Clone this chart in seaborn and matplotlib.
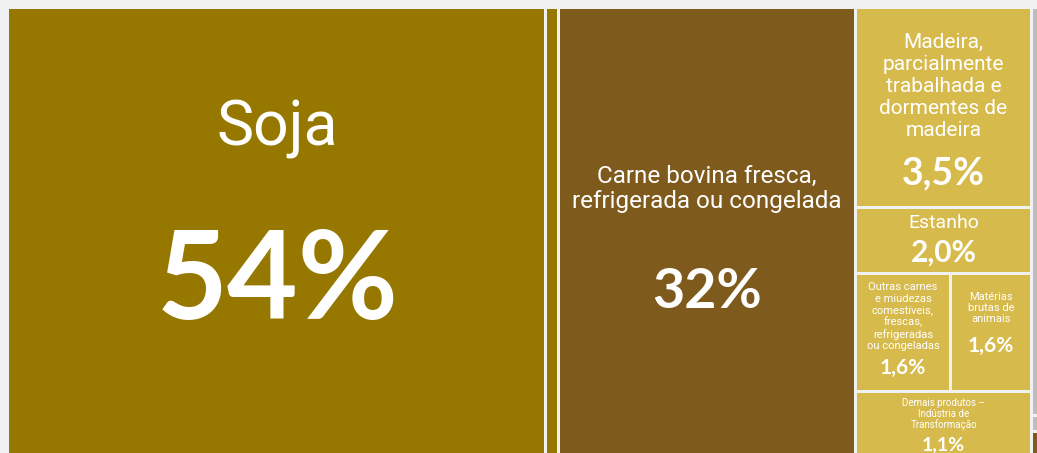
import matplotlib
matplotlib.use("Agg")
import matplotlib.pyplot as plt
from matplotlib.patches import Rectangle
import seaborn as sns

sns.set_theme(style="white")

# Tiles of the treemap (the view is cropped on the right, like the original)
names = [
    "Soja",
    "",
    "Carne bovina fresca,\nrefrigerada ou congelada",
    "Madeira,\nparcialmente\ntrabalhada e\ndormentes de\nmadeira",
    "Estanho",
    "Outras carnes\ne miudezas\ncomestíveis,\nfrescas,\nrefrigeradas\nou congeladas",
    "Matérias\nbrutas de\nanimais",
    "Demais produtos –\nIndústria de\nTransformação",
    "",
    "",
    "",
]
shares = ["54%", "", "32%", "3,5%", "2,0%", "1,6%", "1,6%", "1,1%", "", "", ""]
# tile area (% of the treemap)
sizes = [51.76, 1.25, 28.65, 7.59, 2.54, 2.42, 2.07, 2.36, 1.23, 0.05, 0.065]
column = [0, 1, 2, 3, 3, 3, 3, 3, 4, 4, 4]
row = [0, 0, 0, 0, 1, 2, 2, 3, 0, 1, 2]
group = ["agro", "agro", "carne", "ind", "ind", "ind", "ind", "ind", "outros", "outros", "carne"]

palette = {"agro": "#967800", "carne": "#7e5b1c", "ind": "#d7ba4c", "outros": "#bdbdbd"}

# label styles: (name y, value y, name size, value size, name line spacing)
styles = {
    0: (0.27, 0.62, 45, 88, 1.0),
    2: (0.405, 0.637, 17.5, 40, 1.1),
    3: (0.39, 0.83, 15, 27, 1.2),
    4: (0.23, 0.68, 14, 21.5, 1.0),
    5: (0.365, 0.80, 8, 15, 1.17),
    6: (0.29, 0.61, 8, 15, 1.17),
    7: (0.37, 0.87, 7, 14, 1.05),
}

W, H = 1036.5, 444.0
GAP = 1.5


def layout():
    rects = [None] * len(sizes)
    x = 0.0
    for c in sorted(set(column)):
        idx = [i for i in range(len(sizes)) if column[i] == c]
        ctot = sum(sizes[i] for i in idx)
        cw = ctot / sum(sizes) * W
        y = 0.0
        for r in sorted(set(row[i] for i in idx)):
            ridx = [i for i in idx if row[i] == r]
            rtot = sum(sizes[i] for i in ridx)
            rh = rtot / ctot * H
            xx = x
            for i in ridx:
                tw = sizes[i] / rtot * cw
                rects[i] = (xx, y, tw, rh)
                xx += tw
            y += rh
        x += cw
    return rects


rects = layout()

fig = plt.figure(figsize=(10.37, 4.53), dpi=100)
fig.patch.set_facecolor("#f1f1f1")
ax = fig.add_axes([9 / 1037, 0, 1028 / 1037, 444 / 453])
ax.set_xlim(0, 1028)
ax.set_ylim(H, 0)
ax.axis("off")

for i, (x, y, w, h) in enumerate(rects):
    x0, y0, x1, y1 = x, y, x + w, y + h
    if x0 > 0:
        x0 += GAP
    if y0 > 0:
        y0 += GAP
    if x1 < W - 0.01:
        x1 -= GAP
    if y1 < H - 0.01:
        y1 -= GAP
    ax.add_patch(Rectangle((x0, y0), x1 - x0, y1 - y0,
                           facecolor=palette[group[i]], edgecolor="none"))
    if i in styles:
        ny, vy, ns, vs, ls = styles[i]
        cx = x + w / 2
        ax.text(cx, y + ny * h, names[i], ha="center", va="center",
                color="white", fontsize=ns, fontfamily="Roboto",
                fontweight="normal", linespacing=ls)
        ax.text(cx, y + vy * h, shares[i], ha="center", va="center",
                color="white", fontsize=vs, fontfamily="Lato",
                fontweight="bold")

fig.savefig("out.png", dpi=100, facecolor=fig.get_facecolor())
